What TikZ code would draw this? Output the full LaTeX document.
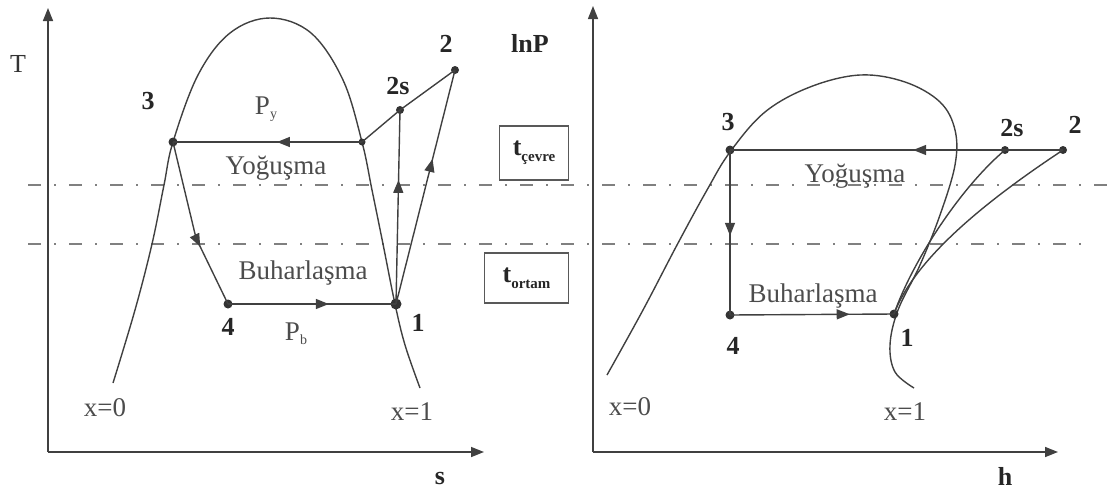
\documentclass[tikz,border=0pt]{standalone}
\usepackage{fontspec}
\setmainfont{Liberation Serif}
\usetikzlibrary{arrows.meta,decorations.markings}
\tikzset{
  ln/.style={draw=black!75, line width=1.4},
  axis/.style={draw=black!75, line width=1.5, -{Triangle[length=13,width=10]}},
  dotp/.style={circle, fill=black!80, inner sep=0pt, minimum size=9},
  lbl/.style={font=\fontsize{26}{28}\selectfont\bfseries, text=black!85},
  txt/.style={font=\fontsize{27}{29}\selectfont, text=black!70},
  flow/.style={postaction={decorate}, decoration={markings, mark=at position #1 with {\arrow{Triangle[length=13,width=10]}}}},
  guide/.style={draw=black!50, line width=1.4, dash pattern=on 13pt off 13pt on 2pt off 13pt},
  tbox/.style={draw=black!65, line width=1.1, inner sep=2pt, anchor=west, font=\fontsize{26}{28}\selectfont\bfseries, text=black!85}
}
\begin{document}
\begin{tikzpicture}[x=1pt,y=-1pt]
\useasboundingbox (0,0) rectangle (1107,493);
% guide lines
\draw[guide] (28,185) -- (1107,185);
\draw[guide] (28,244) -- (1090,244);
% ---------- left panel ----------
\coordinate (lo) at (48,452);
\coordinate (ltop) at (48,8);
\coordinate (lright) at (484,452);
\draw[axis] (lo) -- (ltop);
\draw[axis] (lo) -- (lright);
\node[font=\fontsize{26}{28}\selectfont, text=black!80] (lT) at (18,64) {T};
\node[lbl] (ls) at (440,478) {s};
\draw[ln] plot[smooth, tension=0.6] coordinates {(113,383) (135,310) (152,244) (164,185) (173,142) (198,75) (230,33) (270,18) (311,33) (343,80) (362,142) (372,190) (383,244) (395,304) (405,345) (420,388)};
\node[dotp] (l3) at (173,142) {};
\node[dotp, minimum size=7] (lg) at (362,142) {};
\node[dotp, minimum size=8] (l2s) at (400,110) {};
\node[dotp, minimum size=8] (l2) at (455,70) {};
\node[dotp] (l4) at (228,304) {};
\node[dotp, minimum size=11] (l1) at (396,304) {};
\draw[ln, flow=0.45] (lg.center) -- (l3.center);
\draw[ln, flow=0.63] (l3.center) -- (196,238) -- (l4.center);
\draw[ln, flow=0.6] (l4.center) -- (l1.center);
\draw[ln, flow=0.64] (l1.center) -- (l2s.center);
\draw[ln, flow=0.62] (l1.center) -- (l2.center);
\draw[ln] (lg.center) -- (l2s.center) -- (l2.center);
\node[lbl] (t3) at (148,101) {3};
\node[lbl] (t2s) at (398,86) {2s};
\node[lbl] (t2) at (446,44) {2};
\node[txt] (tPy) at (266,109) {P\raisebox{-0.35ex}{\fontsize{14}{14}\selectfont y}};
\node[txt] (tY) at (276,168) {Yoğuşma};
\node[txt] (tB) at (303,273) {Buharlaşma};
\node[lbl] (t4) at (228,327) {4};
\node[txt] (tPb) at (296,334) {P\raisebox{-0.35ex}{\fontsize{14}{14}\selectfont b}};
\node[lbl] (t1) at (418,323) {1};
\node[txt] (tx0) at (105,408) {x=0};
\node[txt] (tx1) at (412,412) {x=1};
% boxes
\node[tbox, minimum width=69, minimum height=54] (bc) at (499,153) {t\raisebox{-0.5ex}{\fontsize{15}{15}\selectfont çevre}};
\node[tbox, minimum width=84, minimum height=50] (bo) at (484,278) {t\raisebox{-0.5ex}{\fontsize{15}{15}\selectfont ortam}};
\node[lbl] (lnP) at (530,43) {lnP};
% ---------- right panel ----------
\coordinate (ro) at (593,452);
\coordinate (rtop) at (593,6);
\coordinate (rright) at (1058,452);
\draw[axis] (ro) -- (rtop);
\draw[axis] (ro) -- (rright);
\node[lbl] (rh) at (1005,476) {h};
\draw[ln] plot[smooth, tension=0.6] coordinates {(607,375) (643,310) (677,245) (707,190) (730,152) (765,112) (810,87) (860,75) (905,82) (940,102) (955,130) (955,165) (940,215) (920,265) (898,310) (890,345) (895,372) (914,388)};
\node[dotp] (r3) at (730,150) {};
\node[dotp, minimum size=8] (r2s) at (1005,150) {};
\node[dotp, minimum size=8] (r2) at (1063,150) {};
\node[dotp] (r4) at (730,315) {};
\node[dotp] (r1) at (894,314) {};
\draw[ln, flow=0.45] (r2.center) -- (r3.center);
\draw[ln, flow=0.52] (r3.center) -- (r4.center);
\draw[ln, flow=0.73] (r4.center) -- (r1.center);
\draw[ln] (r1.center) .. controls (912,262) and (960,188) .. (r2s.center);
\draw[ln] (r1.center) .. controls (916,255) and (995,195) .. (r2.center);
\node[lbl] (s3) at (728,122) {3};
\node[lbl] (s2s) at (1012,128) {2s};
\node[lbl] (s2) at (1075,125) {2};
\node[txt] (sY) at (855,176) {Yoğuşma};
\node[txt] (sB) at (813,296) {Buharlaşma};
\node[lbl] (s4) at (733,346) {4};
\node[lbl] (s1) at (907,338) {1};
\node[txt] (sx0) at (630,407) {x=0};
\node[txt] (sx1) at (905,412) {x=1};
\end{tikzpicture}
\end{document}
